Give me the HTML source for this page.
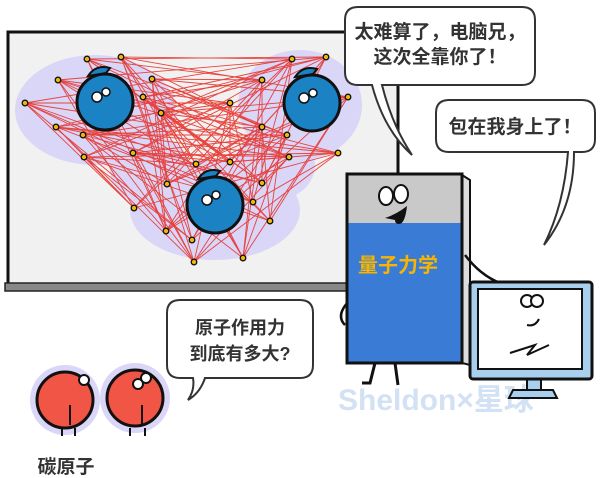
<!DOCTYPE html>
<html><head><meta charset="utf-8"><style>
html,body{margin:0;padding:0;background:#fff}
svg{display:block}
text{font-family:"Liberation Sans","Noto Sans CJK SC",sans-serif;font-weight:bold}
</style></head><body>
<svg width="601" height="478" viewBox="0 0 601 478" xmlns="http://www.w3.org/2000/svg">
<rect x="0" y="0" width="601" height="478" fill="#fff"/>
<!-- board -->
<rect x="8" y="32" width="390" height="252" fill="#f1f1f1" stroke="#111" stroke-width="3"/>
<rect x="5" y="283" width="395" height="8" fill="#888" stroke="#222" stroke-width="1.5"/>
<!-- purple blobs -->
<g fill="#d9d6f7">
<ellipse cx="95" cy="110" rx="80" ry="55"/>
<ellipse cx="300" cy="105" rx="62" ry="55"/>
<ellipse cx="215" cy="210" rx="85" ry="50"/>
<ellipse cx="150" cy="170" rx="40" ry="35"/>
<ellipse cx="275" cy="165" rx="40" ry="35"/>
</g>
<g id="lines" stroke="#e8322b" stroke-width="0.9" opacity="0.9"></g>
<g id="dots" fill="#f2b705" stroke="#111" stroke-width="1.3"></g>
<!-- blue atoms -->
<g stroke="#111" stroke-width="3">
<circle cx="105" cy="102" r="28" fill="#1b82c4"/>
<circle cx="312" cy="103" r="28" fill="#1b82c4"/>
<circle cx="215" cy="205" r="28" fill="#1b82c4"/>
<path d="M88,76 q8,-12 22,-8 l-4,5 z" fill="#1b82c4" stroke-width="2"/>
<path d="M295,77 q8,-12 22,-8 l-4,5 z" fill="#1b82c4" stroke-width="2"/>
<path d="M198,179 q8,-12 22,-8 l-4,5 z" fill="#1b82c4" stroke-width="2"/>
</g>
<g fill="#fff" stroke="#111" stroke-width="1.5">
<circle cx="97" cy="97" r="5"/><circle cx="106" cy="92" r="4"/>
<circle cx="304" cy="98" r="5"/><circle cx="313" cy="93" r="4"/>
<circle cx="207" cy="200" r="5"/><circle cx="216" cy="195" r="4"/>
</g>
<!-- red atoms -->
<g>
<circle cx="65" cy="400" r="35" fill="#d9d6f7"/>
<circle cx="135" cy="398" r="35" fill="#d9d6f7"/>
<circle cx="65" cy="400" r="28" fill="#f05545" stroke="#111" stroke-width="3"/>
<circle cx="135" cy="398" r="28" fill="#f05545" stroke="#111" stroke-width="3"/>
<g fill="#fff" stroke="#111" stroke-width="2"><circle cx="84" cy="380" r="5"/><circle cx="138" cy="384" r="5"/><circle cx="146" cy="378" r="5"/></g>
<path d="M70,405 v20 M142,405 v20 M62,428 v8 M75,428 v8 M130,428 v8 M145,428 v8" stroke="#111" stroke-width="2"/>
</g>
<text x="66" y="473" font-size="19" fill="#333" text-anchor="middle">碳原子</text>
<!-- bubble 3 -->
<path d="M180,300 h120 q13,0 13,13 v52 q0,13 -13,13 h-95 q-5,15 -17,22 q7,-10 5,-22 h-13 q-13,0 -13,-13 v-52 q0,-13 13,-13 z" fill="#fff" stroke="#333" stroke-width="2"/>
<text x="240" y="334" font-size="18" fill="#333" text-anchor="middle">原子作用力</text>
<text x="240" y="360" font-size="18" fill="#333" text-anchor="middle">到底有多大?</text>
<!-- bubble 1 -->
<path d="M358,7 h164 q13,0 13,13 v52 q0,13 -13,13 h-140 q10,40 30,70 q-28,-25 -40,-70 h-14 q-13,0 -13,-13 v-52 q0,-13 13,-13 z" fill="#fff" stroke="#333" stroke-width="2"/>
<text x="440" y="38" font-size="19" fill="#333" text-anchor="middle">太难算了，电脑兄，</text>
<text x="440" y="63" font-size="19" fill="#333" text-anchor="middle">这次全靠你了！</text>
<!-- bubble 2 -->
<path d="M449,100 h133 q13,0 13,13 v26 q0,13 -13,13 h-8 q0,55 -30,93 q20,-40 24,-93 h-119 q-13,0 -13,-13 v-26 q0,-13 13,-13 z" fill="#fff" stroke="#333" stroke-width="2"/>
<text x="515" y="133" font-size="19" fill="#333" text-anchor="middle">包在我身上了！</text>
<!-- watermark -->
<text x="338" y="410" font-size="30" fill="#d2e1f4" font-weight="bold">Sheldon×星球</text>
<!-- book -->
<path d="M462,175 l8,5 v185 l-8,-2 z" fill="#ddd" stroke="#111" stroke-width="2"/>
<path d="M350,300 q-15,15 -5,25 M465,255 q15,20 35,28" fill="none" stroke="#111" stroke-width="2.5"/>
<rect x="347" y="174" width="115" height="49" fill="#c9c9c9"/>
<rect x="347" y="223" width="115" height="140" fill="#3a7bd5"/>
<rect x="347" y="174" width="115" height="189" fill="none" stroke="#111" stroke-width="3"/>
<g fill="#fff" stroke="#111" stroke-width="2"><ellipse cx="386" cy="196" rx="7" ry="9"/><ellipse cx="401" cy="194" rx="7" ry="9"/></g>
<path d="M385,218 q12,-4 22,-12 q-2,18 -8,18 q-4,0 -4,-4 z" fill="#111"/>
<text x="398" y="272" font-size="20" fill="#f7b500" text-anchor="middle">量子力学</text>
<path d="M375,363 l-5,20 h-8 M395,363 l3,22" fill="none" stroke="#111" stroke-width="3"/>
<!-- monitor -->
<rect x="527" y="378" width="14" height="14" fill="#a8d0ee" stroke="#111" stroke-width="2"/>
<path d="M513,390 h40 l4,8 h-48 z" fill="#a8d0ee" stroke="#111" stroke-width="2"/>
<rect x="470" y="282" width="122" height="97" rx="3" fill="#a8d0ee" stroke="#111" stroke-width="3"/>
<rect x="478" y="289" width="104" height="80" fill="#fff" stroke="#111" stroke-width="2"/>
<g fill="#fff" stroke="#111" stroke-width="2"><circle cx="527" cy="301" r="6"/><circle cx="537" cy="301" r="6"/></g>
<path d="M527,325 q8,2 12,-6 M510,353 l25,-8 l-8,10 l22,-10" fill="none" stroke="#111" stroke-width="2"/>
</svg>
<script>
var d=[[87,59],[121,57],[58,80],[152,79],[25,103],[143,97],[161,113],[56,127],[83,135],[84,157],[133,153],[196,164],[230,162],[167,184],[134,208],[166,231],[192,240],[194,262],[243,258],[253,202],[262,183],[270,221],[289,157],[262,127],[230,103],[262,80],[292,59],[326,57],[348,97],[338,153],[287,135]];
var c=d.map(function(p){var a=[[105,102],[312,103],[215,205]];var b=0,m=1e9;a.forEach(function(q,i){var dd=(p[0]-q[0])**2+(p[1]-q[1])**2;if(dd<m){m=dd;b=i}});return b});
var L=document.getElementById('lines'),D=document.getElementById('dots'),ns='http://www.w3.org/2000/svg';
for(var i=0;i<d.length;i++)for(var j=i+1;j<d.length;j++){if(c[i]!=c[j]&&((i*7+j*3)%5<2)){var l=document.createElementNS(ns,'line');l.setAttribute('x1',d[i][0]);l.setAttribute('y1',d[i][1]);l.setAttribute('x2',d[j][0]);l.setAttribute('y2',d[j][1]);L.appendChild(l);}}
d.forEach(function(p){var e=document.createElementNS(ns,'circle');e.setAttribute('cx',p[0]);e.setAttribute('cy',p[1]);e.setAttribute('r',2.8);D.appendChild(e);});
</script>
</body></html>
